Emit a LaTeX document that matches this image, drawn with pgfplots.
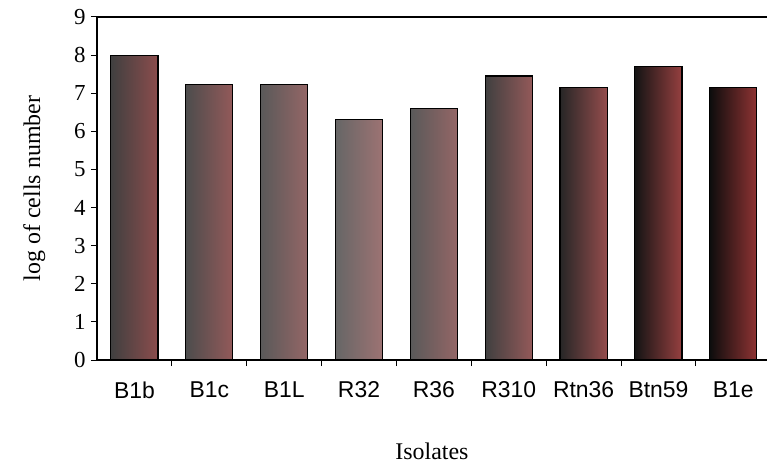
\documentclass[border=0pt]{standalone}
\usepackage{pgfplots}
\pgfplotsset{compat=1.18}
\usepackage{fontspec}
\setmainfont{Liberation Serif}
\newfontfamily\arial{Liberation Sans}
\begin{document}
\begin{tikzpicture}
\useasboundingbox (-97bp,-108bp) rectangle (670bp,360bp);
\begin{axis}[
  at={(0,0)}, anchor=south west,
  scale only axis,
  width=670bp, height=343bp,
  xmin=-0.5, xmax=8.45,
  ymin=0, ymax=9,
  ytick={0,1,...,9},
  axis x line*=bottom, axis y line*=left,
  axis line style={line width=1.2bp, -},
  tick align=outside,
  major tick length=6bp,
  tick style={line width=1bp, black},
  /pgf/number format/assume math mode=true,
  yticklabel style={font=\fontsize{23}{25}\selectfont, xshift=-2bp},
  xtick={0.5,1.5,...,7.5},
  xticklabels={},
  extra x ticks={0,1,...,8},
  extra x tick labels={B1b,B1c,B1L,R32,R36,R310,Rtn36,Btn59,B1e},
  extra x tick style={major tick length=0pt, tick label style={font=\arial\fontsize{23}{25}\selectfont, yshift=-18bp}},
  ylabel={log of cells number},
  ylabel style={font=\fontsize{24}{26}\selectfont, yshift=22bp},
  xlabel={Isolates},
  xlabel style={font=\fontsize{24}{26}\selectfont, yshift=-32bp},
  ybar, bar width=0.63, bar shift=0pt,
  every axis plot/.append style={draw=black, line width=1.2bp},
]
\addplot[left color=black!75, middle color=black!50, right color=red!35!black!70] coordinates {(0,8.0)};
\addplot[left color=black!70, middle color=black!45, right color=red!35!black!65] coordinates {(1,7.22)};
\addplot[left color=black!65, middle color=black!40, right color=red!30!black!60] coordinates {(2,7.22)};
\addplot[left color=black!60, middle color=black!38, right color=red!30!black!55] coordinates {(3,6.3)};
\addplot[left color=black!65, middle color=black!40, right color=red!30!black!60] coordinates {(4,6.6)};
\addplot[left color=black!75, middle color=black!52, right color=red!35!black!65] coordinates {(5,7.45)};
\addplot[left color=black!85, middle color=black!62, right color=red!40!black!70] coordinates {(6,7.15)};
\addplot[left color=black!92, middle color=black!80, right color=red!45!black!75] coordinates {(7,7.7)};
\addplot[left color=black!95, middle color=black!88, right color=red!45!black!80] coordinates {(8,7.15)};
\draw[line width=1.2bp] (rel axis cs:0,1) -- (rel axis cs:1,1);
\end{axis}
\end{tikzpicture}
\end{document}
